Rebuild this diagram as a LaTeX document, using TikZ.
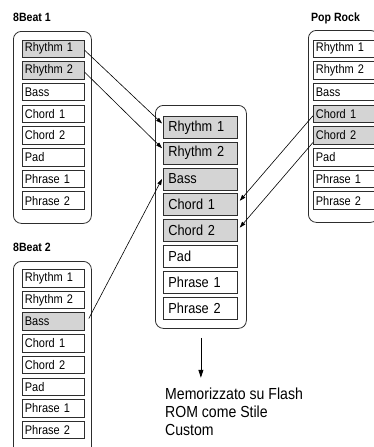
\documentclass[tikz,border=0pt]{standalone}
\usepackage{fontspec}
\setmainfont{Liberation Sans}[FakeStretch=0.88]
\usetikzlibrary{arrows.meta, positioning}
\definecolor{pickGray}{RGB}{212,212,212}
\definecolor{lineDark}{RGB}{45,45,45}

\begin{document}
\begin{tikzpicture}[
    x=1pt, y=-1pt,
    track/.style={rectangle, draw=lineDark, line width=0.8pt, anchor=north west, minimum height=17.5pt, text width=57pt, inner xsep=2.5pt, inner ysep=0pt, align=left, font=\fontsize{12.5}{14}\selectfont},
    bigtrack/.style={track, minimum height=22pt, text width=64pt, inner xsep=5pt, font=\fontsize{14.5}{16}\selectfont},
    frame/.style={rectangle, draw=lineDark, line width=0.8pt, rounded corners=8pt, anchor=north west, inner sep=0pt},
    title/.style={anchor=base west, inner sep=0pt, font=\bfseries\fontsize{12}{14}\selectfont},
    copyline/.style={-{Triangle[length=6pt, width=4pt]}, line width=0.6pt, black},
    storeline/.style={-{Triangle[length=8pt, width=5pt]}, line width=0.8pt, black}
]
    \useasboundingbox (0,0) rectangle (374,447);

    % Frames round each style
    \node[frame, minimum width=78pt, minimum height=192pt] (beatAFrame) at (13,31) {};
    \node[frame, minimum width=70pt, minimum height=192pt] (popFrame) at (308,30) {};
    \node[frame, minimum width=78pt, minimum height=200pt] (beatBFrame) at (13,261) {};
    \node[frame, minimum width=91pt, minimum height=223pt] (midFrame) at (155,105) {};

    % Titles
    \node[title] (beatATitle) at (13,21) {8Beat 1};
    \node[title] (popTitle) at (311,21) {Pop Rock};
    \node[title] (beatBTitle) at (13,251) {8Beat 2};

    % Source styles
    \foreach \txt/\fc [count=\i] in {Rhythm 1/pickGray, Rhythm 2/pickGray, Bass/white, Chord 1/white, Chord 2/white, Pad/white, Phrase 1/white, Phrase 2/white}
        \node[track, fill=\fc] (beatA-\i) at (22, {39.5+(\i-1)*21.7}) {\txt};
    \foreach \txt/\fc [count=\i] in {Rhythm 1/white, Rhythm 2/white, Bass/white, Chord 1/pickGray, Chord 2/pickGray, Pad/white, Phrase 1/white, Phrase 2/white}
        \node[track, fill=\fc] (pop-\i) at (313, {39.5+(\i-1)*21.7}) {\txt};
    \foreach \txt/\fc [count=\i] in {Rhythm 1/white, Rhythm 2/white, Bass/pickGray, Chord 1/white, Chord 2/white, Pad/white, Phrase 1/white, Phrase 2/white}
        \node[track, fill=\fc] (beatB-\i) at (22, {269+(\i-1)*21.7}) {\txt};

    % Custom style
    \foreach \txt/\fc [count=\i] in {Rhythm 1/pickGray, Rhythm 2/pickGray, Bass/pickGray, Chord 1/pickGray, Chord 2/pickGray, Pad/white, Phrase 1/white, Phrase 2/white}
        \node[bigtrack, fill=\fc] (mid-\i) at (163, {116+(\i-1)*25.8}) {\txt};

    % Copied parts
    \draw[copyline] ([yshift=-1.75pt]beatA-1.east) -- ([shift={(-1pt,4pt)}]mid-1.west);
    \draw[copyline] ([yshift=-2pt]beatA-2.east) -- ([shift={(-1pt,5pt)}]mid-2.west);
    \draw[copyline] ([shift={(4pt,3pt)}]beatB-3.east) -- ([shift={(-1pt,0pt)}]mid-3.west);
    \draw[copyline] ([yshift=-2pt]pop-4.west) -- ([shift={(2pt,4pt)}]mid-4.east);
    \draw[copyline] ([yshift=-7pt]pop-5.west) -- ([shift={(2pt,3pt)}]mid-5.east);

    % Result
    \coordinate (storeEnd) at ([yshift=-49pt]midFrame.south);
    \draw[storeline] ([yshift=-9pt]midFrame.south) -- (storeEnd);
    \node[anchor=north west, inner sep=0pt, align=left, font=\fontsize{16}{18}\selectfont] (storeNote) at (165,388) {Memorizzato su Flash\\ROM come Stile\\Custom};
\end{tikzpicture}
\end{document}
